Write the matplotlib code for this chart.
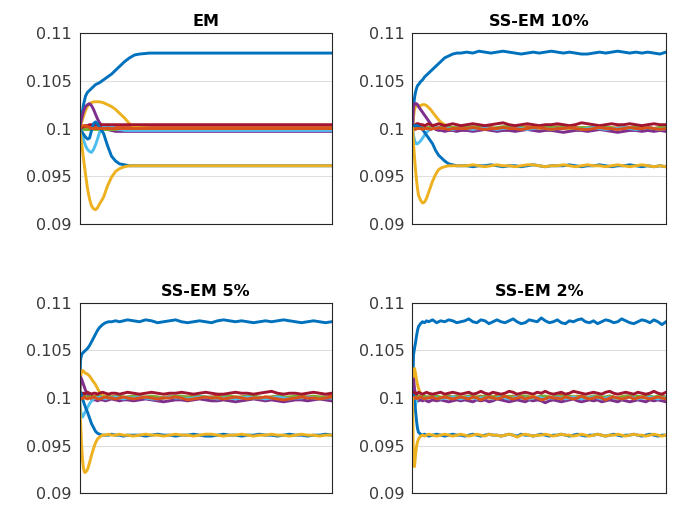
import matplotlib.pyplot as plt
import numpy as np

# mixture weights per iteration, in units of 1e-4 (1000 -> 0.1)
em_iter = [0, 2, 4, 6, 8, 10, 12, 14, 16, 18, 20, 24, 28, 32, 36, 40, 45, 50, 55, 60,
           70, 80, 100, 150, 200, 252]
em_w1 = [1000, 1012, 1025, 1034, 1038, 1040, 1042, 1044, 1046, 1047, 1048, 1051, 1054, 1057,
         1061, 1065, 1070, 1074, 1077, 1078, 1079, 1079, 1079, 1079, 1079, 1079]
em_w2 = [1000, 1001, 1001, 1001, 1001, 1001, 1001, 1001, 1001, 1001, 1001, 1001, 1001, 1001,
         1001, 1001, 1001, 1001, 1001, 1001, 1001, 1001, 1001, 1001, 1001, 1001]
em_w3 = [1000, 1006, 1013, 1019, 1023, 1026, 1027, 1028, 1028, 1028, 1028, 1027, 1025, 1023,
         1020, 1016, 1011, 1005, 1002, 1001, 1000, 1000, 1000, 1000, 1000, 1000]
em_w4 = [1000, 1010, 1018, 1023, 1025, 1026, 1024, 1020, 1015, 1010, 1006, 1001, 999, 998,
         997, 997, 997, 997, 997, 997, 997, 997, 997, 997, 997, 997]
em_w5 = [1000, 1000, 999, 999, 999, 999, 999, 999, 999, 999, 999, 999, 999, 999,
         999, 999, 999, 999, 999, 999, 999, 999, 999, 999, 999, 999]
em_w6 = [1000, 995, 988, 982, 978, 976, 975, 978, 983, 989, 996, 1002, 1004, 1002,
         1000, 999, 998, 998, 998, 998, 998, 998, 998, 998, 998, 998]
em_w7 = [1000, 1001, 1002, 1003, 1003, 1004, 1004, 1004, 1004, 1004, 1004, 1004, 1004, 1004,
         1004, 1004, 1004, 1004, 1004, 1004, 1004, 1004, 1004, 1004, 1004, 1004]
em_w8 = [1000, 997, 994, 991, 989, 990, 998, 1005, 1007, 1005, 1001, 995, 982, 971,
         966, 963, 962, 961, 961, 961, 961, 961, 961, 961, 961, 961]
em_w9 = [1000, 1002, 1003, 1003, 1002, 1001, 1000, 1000, 1000, 1000, 1000, 1000, 1000, 1000,
         1000, 1000, 1000, 1000, 1000, 1000, 1000, 1000, 1000, 1000, 1000, 1000]
em_w10 = [1000, 985, 968, 952, 937, 926, 919, 916, 915, 917, 921, 928, 940, 949,
          955, 958, 960, 961, 961, 961, 961, 961, 961, 961, 961, 961]

ss_iter = [0, 1, 2, 3, 4, 5, 6, 8, 10, 12, 14, 16, 18, 20, 23, 26, 29, 32, 36, 40, 44, 48] \
    + list(range(54, 253, 6))

ss10_w1 = [1000, 1022, 1032, 1038, 1042, 1045, 1046, 1049, 1051, 1054, 1056, 1058, 1060, 1062, 1065, 1068, 1071, 1074, 1076, 1078, 1079, 1079,
           1080, 1079, 1081, 1080, 1079, 1080, 1081, 1080, 1079, 1078, 1079, 1080, 1079, 1080, 1081, 1080, 1079, 1080, 1079, 1078,
           1078, 1079, 1080, 1079, 1080, 1081, 1080, 1079, 1080, 1079, 1080, 1079, 1078, 1080]
ss10_w2 = [1000, 1000, 1001, 1001, 1001, 1001, 1000, 1000, 1001, 1001, 1000, 1000, 1001, 1001, 1000, 1001, 1001, 1000, 1001, 1001, 1000, 1001,
           1001, 1000, 1001, 1002, 1001, 1000, 1001, 1001, 1000, 1001, 1002, 1001, 1000, 1001, 1001, 1002, 1001, 1000, 1001, 1001,
           1000, 1001, 1002, 1001, 1000, 1001, 1001, 1000, 1001, 1002, 1001, 1000, 1001, 1001]
ss10_w3 = [1000, 1012, 1020, 1023, 1024, 1024, 1024, 1024, 1025, 1025, 1024, 1022, 1020, 1017, 1013, 1009, 1006, 1004, 1002, 1001, 1000, 1000,
           1000, 1001, 1000, 1000, 999, 1000, 1001, 1000, 1000, 1001, 1000, 999, 1000, 1000, 1001, 1000, 1000, 999, 1000, 1001,
           1000, 1000, 1001, 1000, 999, 1000, 1000, 1001, 1000, 1000, 999, 1000, 1001, 1000]
ss10_w4 = [1000, 1022, 1026, 1026, 1026, 1025, 1023, 1020, 1017, 1014, 1011, 1008, 1005, 1002, 999, 998, 998, 997, 998, 998, 997, 998,
           998, 997, 998, 999, 998, 997, 998, 998, 997, 998, 999, 998, 997, 998, 998, 997, 996, 997, 998, 998,
           997, 998, 999, 998, 997, 996, 997, 998, 998, 997, 998, 997, 998, 997]
ss10_w5 = [1000, 1000, 1000, 1001, 1001, 1001, 1001, 1001, 1001, 1001, 1001, 1001, 1001, 1001, 1002, 1001, 1001, 1001, 1002, 1001, 1001, 1001,
           1001, 1002, 1001, 1001, 1000, 1001, 1002, 1002, 1001, 1001, 1000, 1001, 1001, 1002, 1001, 1001, 1002, 1001, 1000, 1001,
           1001, 1002, 1002, 1001, 1001, 1000, 1001, 1001, 1002, 1001, 1001, 1000, 1001, 1002]
ss10_w6 = [1000, 993, 988, 985, 984, 984, 985, 987, 990, 993, 996, 998, 999, 1000, 1001, 1001, 1000, 1000, 1000, 999, 1000, 1000,
           1000, 999, 1000, 1001, 1000, 999, 1000, 1000, 1001, 1000, 999, 1000, 1001, 1000, 999, 1000, 1000, 1001, 1000, 999,
           1000, 1001, 1000, 999, 1000, 1000, 1001, 1000, 999, 1000, 1001, 1000, 999, 1000]
ss10_w7 = [1000, 1002, 1003, 1004, 1005, 1005, 1005, 1004, 1004, 1003, 1004, 1005, 1004, 1003, 1004, 1005, 1004, 1003, 1004, 1005, 1004, 1003,
           1004, 1005, 1004, 1003, 1004, 1005, 1006, 1004, 1003, 1004, 1005, 1004, 1003, 1004, 1004, 1005, 1004, 1003, 1004, 1006,
           1005, 1004, 1003, 1004, 1005, 1004, 1004, 1005, 1004, 1003, 1004, 1005, 1004, 1004]
ss10_w8 = [1000, 1002, 1003, 1003, 1003, 1003, 1002, 1001, 999, 996, 993, 990, 987, 984, 977, 972, 969, 966, 963, 962, 961, 961,
           961, 960, 961, 961, 962, 961, 960, 961, 961, 960, 961, 962, 961, 960, 961, 961, 961, 962, 961, 960,
           961, 961, 962, 961, 960, 961, 961, 962, 961, 960, 961, 960, 961, 960]
ss10_w9 = [1000, 1000, 999, 999, 1000, 1000, 1000, 1000, 999, 1000, 1000, 1000, 999, 1000, 1000, 1001, 1000, 1000, 999, 1000, 1000, 1000,
           1000, 1001, 1000, 999, 1000, 1000, 1001, 1000, 1000, 999, 1000, 1001, 1001, 1000, 999, 1000, 1000, 1001, 1000, 999,
           999, 1000, 1001, 1000, 1000, 999, 1000, 1001, 1000, 1000, 1001, 1000, 999, 1000]
ss10_w10 = [1000, 985, 970, 957, 946, 937, 930, 925, 922, 923, 927, 933, 939, 945, 952, 957, 959, 960, 961, 961, 961, 961,
            961, 962, 961, 960, 961, 962, 961, 961, 960, 961, 962, 962, 961, 960, 961, 961, 962, 961, 960, 961,
            962, 961, 961, 960, 961, 962, 961, 960, 961, 962, 961, 960, 961, 960]

ss5_w1 = [1000, 1040, 1045, 1047, 1048, 1049, 1050, 1052, 1055, 1059, 1063, 1067, 1071, 1074, 1077, 1079, 1080, 1080, 1081, 1080, 1081, 1082,
          1081, 1080, 1082, 1081, 1079, 1080, 1081, 1082, 1080, 1079, 1080, 1081, 1080, 1079, 1081, 1082, 1081, 1080, 1081, 1080,
          1079, 1080, 1081, 1080, 1081, 1082, 1081, 1080, 1079, 1080, 1081, 1080, 1079, 1080]
ss5_w2 = [1000, 1001, 1001, 1000, 1001, 1001, 1000, 1001, 1001, 1000, 1001, 1002, 1001, 1000, 1001, 1001, 1000, 1001, 1002, 1001, 1000, 1001,
          1001, 1002, 1000, 1001, 1001, 1000, 1002, 1001, 1000, 1001, 1002, 1001, 1000, 1001, 1002, 1001, 1001, 1000, 1001, 1002,
          1001, 1000, 1001, 1001, 1002, 1001, 1000, 1001, 1002, 1001, 1000, 1001, 1001, 1002]
ss5_w3 = [1000, 1022, 1028, 1029, 1028, 1027, 1026, 1025, 1023, 1020, 1017, 1014, 1010, 1006, 1003, 1001, 1000, 1000, 1001, 1000, 1000, 999,
          1000, 1001, 1000, 999, 1000, 1001, 1001, 1000, 999, 1000, 1001, 1000, 1000, 999, 1000, 1001, 1000, 1001, 1000, 999,
          1000, 1000, 1001, 1000, 999, 1000, 1001, 1000, 1000, 1001, 1000, 999, 1000, 1000]
ss5_w4 = [1000, 1022, 1020, 1017, 1014, 1011, 1008, 1004, 1001, 999, 998, 998, 997, 998, 998, 997, 998, 999, 998, 997, 998, 998,
          997, 998, 999, 998, 997, 996, 997, 998, 998, 997, 998, 999, 998, 997, 997, 998, 997, 996, 997, 998,
          999, 998, 997, 998, 997, 996, 997, 998, 998, 997, 998, 999, 998, 997]
ss5_w5 = [1000, 1000, 1001, 1001, 1001, 1002, 1001, 1001, 1001, 1002, 1001, 1001, 1001, 1002, 1001, 1001, 1002, 1001, 1001, 1002, 1001, 1001,
          1002, 1001, 1001, 1002, 1001, 1000, 1001, 1002, 1002, 1001, 1001, 1002, 1001, 1001, 1000, 1001, 1002, 1001, 1001, 1002,
          1002, 1001, 1000, 1001, 1002, 1001, 1001, 1002, 1001, 1001, 1002, 1001, 1001, 1000]
ss5_w6 = [1000, 988, 981, 980, 982, 984, 986, 990, 994, 997, 999, 1000, 1000, 1001, 1000, 999, 1000, 1000, 1001, 1000, 999, 1000,
          1000, 1001, 1000, 999, 999, 1000, 1001, 1000, 1000, 999, 1000, 1001, 1001, 1000, 999, 1000, 1000, 999, 1000, 1001,
          1000, 1000, 999, 1000, 1001, 1000, 999, 1000, 1000, 1001, 1000, 999, 1000, 1000]
ss5_w7 = [1000, 1003, 1004, 1005, 1005, 1004, 1005, 1006, 1005, 1004, 1005, 1005, 1004, 1005, 1006, 1005, 1004, 1005, 1005, 1004, 1005, 1006,
          1005, 1004, 1005, 1006, 1005, 1004, 1005, 1005, 1006, 1005, 1004, 1005, 1006, 1005, 1004, 1004, 1005, 1006, 1005, 1005,
          1004, 1005, 1006, 1007, 1005, 1004, 1005, 1005, 1004, 1005, 1006, 1005, 1004, 1005]
ss5_w8 = [1000, 1006, 1003, 999, 996, 993, 990, 985, 979, 973, 969, 965, 963, 962, 961, 961, 961, 962, 961, 961, 960, 961,
          961, 961, 960, 961, 962, 961, 961, 960, 961, 961, 962, 961, 960, 960, 961, 962, 961, 961, 960, 961,
          961, 962, 961, 961, 960, 961, 962, 961, 961, 960, 961, 961, 962, 961]
ss5_w9 = [1000, 1000, 999, 1000, 1000, 1001, 1000, 999, 1000, 1000, 1001, 1000, 999, 999, 1000, 1001, 1000, 1000, 999, 1000, 1001, 1000,
          999, 1000, 1001, 1000, 999, 1000, 1000, 1001, 1000, 998, 999, 1000, 1001, 1000, 1000, 999, 1000, 1001, 1000, 999,
          1000, 1000, 1001, 1000, 999, 998, 999, 1000, 1001, 1000, 1000, 999, 1000, 1001]
ss5_w10 = [1000, 975, 952, 935, 926, 922, 922, 925, 932, 940, 947, 953, 957, 959, 961, 961, 962, 961, 961, 962, 961, 961,
           960, 961, 962, 961, 961, 960, 961, 962, 961, 961, 960, 961, 962, 962, 961, 960, 961, 961, 962, 961,
           960, 961, 961, 962, 961, 961, 960, 961, 962, 961, 961, 960, 961, 961]

ss2_iter = [0, 1, 2, 3, 4, 5, 6, 8, 10, 12, 14, 16, 20, 24, 28, 32, 36, 40, 44, 48] + list(range(52, 253, 4))

ss2_w1 = [1000, 1045, 1052, 1058, 1065, 1071, 1075, 1078, 1080, 1079, 1081, 1080, 1082, 1079, 1081, 1080, 1082, 1081, 1079, 1080,
          1081, 1083, 1080, 1079, 1082, 1081, 1078, 1080, 1082, 1080, 1079, 1081, 1083, 1080, 1078, 1079, 1082, 1081, 1080, 1084,
          1081, 1079, 1080, 1082, 1079, 1078, 1081, 1080, 1082, 1083, 1080, 1079, 1081, 1078, 1080, 1082, 1081, 1079, 1080, 1083,
          1081, 1079, 1078, 1080, 1082, 1081, 1079, 1082, 1080, 1077, 1080]
ss2_w2 = [1000, 1001, 1002, 1001, 1000, 1001, 1001, 1002, 1001, 1000, 1001, 1001, 1002, 1001, 1000, 1001, 1002, 1001, 1001, 1000,
          1001, 1002, 1000, 1001, 1002, 1001, 1000, 1001, 1003, 1001, 1000, 1001, 1002, 1001, 1000, 1002, 1001, 1001, 1000, 1002,
          1001, 1000, 1001, 1002, 1003, 1001, 1000, 1001, 1002, 1001, 1001, 1000, 1002, 1001, 1000, 1001, 1002, 1001, 1000, 1001,
          1002, 1002, 1001, 1000, 1001, 1002, 1001, 1000, 1001, 1002, 1001]
ss2_w3 = [1000, 1028, 1031, 1026, 1019, 1014, 1010, 1005, 1002, 1001, 1000, 1001, 1000, 999, 1000, 1001, 1000, 999, 1000, 1001,
          1000, 999, 1001, 1000, 1000, 1002, 1000, 999, 1000, 1001, 1000, 999, 1001, 1000, 1000, 999, 1001, 1002, 1000, 999,
          1000, 1001, 1000, 1000, 999, 1001, 1000, 1002, 1001, 999, 1000, 1000, 1001, 999, 1000, 1001, 1000, 999, 1000, 1002,
          1000, 1001, 999, 1000, 1001, 1000, 1000, 999, 1001, 1000, 1000]
ss2_w4 = [1000, 1020, 1010, 1004, 1000, 998, 997, 998, 997, 998, 997, 996, 998, 997, 998, 997, 996, 997, 998, 997,
          998, 997, 996, 998, 997, 998, 996, 997, 999, 998, 997, 996, 997, 998, 997, 996, 998, 997, 998, 997,
          995, 997, 998, 997, 996, 997, 998, 999, 997, 996, 997, 998, 997, 998, 996, 997, 998, 997, 996, 998,
          997, 996, 997, 998, 997, 996, 998, 997, 998, 997, 996]
ss2_w5 = [1000, 1001, 1001, 1002, 1001, 1001, 1002, 1001, 1001, 1002, 1001, 1001, 1002, 1002, 1001, 1001, 1002, 1001, 1002, 1001,
          1001, 1002, 1002, 1001, 1001, 1002, 1003, 1001, 1001, 1002, 1001, 1002, 1001, 1001, 1002, 1002, 1001, 1000, 1001, 1002,
          1002, 1001, 1001, 1002, 1001, 1003, 1002, 1001, 1001, 1002, 1001, 1001, 1002, 1002, 1001, 1001, 1002, 1001, 1000, 1001,
          1002, 1002, 1001, 1002, 1001, 1001, 1002, 1001, 1002, 1001, 1001]
ss2_w6 = [1000, 990, 986, 992, 997, 999, 1000, 1001, 1000, 999, 1000, 1000, 1001, 1000, 999, 1000, 1000, 1001, 1000, 999,
          1000, 1001, 1000, 999, 1000, 1000, 1001, 999, 1000, 1001, 1000, 999, 1000, 1001, 1000, 1000, 999, 1000, 1001, 1000,
          999, 1000, 1000, 1001, 1000, 999, 1000, 1001, 1000, 999, 1000, 1000, 1001, 1000, 999, 1000, 1001, 1000, 1000, 999,
          1000, 1001, 1000, 999, 1000, 1000, 1001, 1000, 999, 1000, 1000]
ss2_w7 = [1000, 1004, 1006, 1005, 1004, 1005, 1006, 1005, 1004, 1005, 1006, 1005, 1004, 1005, 1006, 1004, 1005, 1006, 1005, 1004,
          1005, 1006, 1004, 1005, 1007, 1005, 1004, 1006, 1005, 1004, 1005, 1007, 1006, 1004, 1005, 1006, 1005, 1004, 1006, 1005,
          1007, 1005, 1004, 1005, 1006, 1004, 1005, 1007, 1006, 1005, 1004, 1005, 1006, 1005, 1004, 1006, 1007, 1005, 1004, 1005,
          1006, 1005, 1004, 1006, 1005, 1004, 1005, 1007, 1005, 1004, 1006]
ss2_w8 = [1000, 1003, 996, 987, 976, 968, 964, 962, 961, 962, 961, 960, 961, 962, 961, 960, 961, 962, 961, 961,
          960, 961, 962, 961, 960, 961, 962, 961, 961, 960, 961, 962, 961, 960, 962, 961, 961, 960, 961, 962,
          961, 960, 961, 961, 962, 961, 960, 961, 962, 961, 960, 961, 961, 962, 961, 960, 961, 962, 961, 960,
          961, 961, 962, 961, 960, 961, 962, 961, 960, 961, 961]
ss2_w9 = [1000, 999, 1000, 1001, 1000, 999, 1000, 1001, 1000, 999, 1000, 1000, 1001, 999, 1000, 1001, 1000, 999, 1000, 1001,
          1000, 999, 1001, 1000, 998, 1000, 1001, 1000, 999, 1000, 1002, 1000, 999, 1000, 1001, 999, 1000, 1001, 1000, 998,
          999, 1001, 1000, 1000, 999, 1001, 1000, 999, 1000, 1002, 1000, 999, 1000, 1001, 1000, 998, 1000, 1001, 1000, 999,
          1000, 1001, 999, 1000, 1001, 1000, 999, 1000, 1001, 1000, 999]
ss2_w10 = [1000, 930, 928, 940, 949, 954, 957, 960, 961, 960, 961, 962, 961, 960, 961, 962, 961, 960, 961, 962,
           961, 960, 961, 962, 961, 960, 962, 961, 961, 960, 961, 962, 961, 959, 961, 962, 961, 960, 961, 961,
           962, 961, 960, 961, 962, 961, 961, 960, 961, 962, 961, 960, 961, 962, 961, 960, 961, 961, 962, 961,
           960, 961, 962, 961, 961, 960, 961, 962, 961, 960, 961]

titles = ["EM", "SS-EM 10%", "SS-EM 5%", "SS-EM 2%"]
ytick_vals = [0.09, 0.095, 0.1, 0.105, 0.11]
ytick_labels = ["0.09", "0.095", "0.1", "0.105", "0.11"]

# MATLAB default colour order
line_colors = ["#0072BD", "#D95319", "#EDB120", "#7E2F8E", "#77AC30", "#4DBEEE", "#A2142F"]

panels = [
    (em_iter, [em_w1, em_w2, em_w3, em_w4, em_w5, em_w6, em_w7, em_w8, em_w9, em_w10]),
    (ss_iter, [ss10_w1, ss10_w2, ss10_w3, ss10_w4, ss10_w5, ss10_w6, ss10_w7, ss10_w8, ss10_w9, ss10_w10]),
    (ss_iter, [ss5_w1, ss5_w2, ss5_w3, ss5_w4, ss5_w5, ss5_w6, ss5_w7, ss5_w8, ss5_w9, ss5_w10]),
    (ss2_iter, [ss2_w1, ss2_w2, ss2_w3, ss2_w4, ss2_w5, ss2_w6, ss2_w7, ss2_w8, ss2_w9, ss2_w10]),
]

# axes boxes in figure fractions
boxes = [[0.118, 0.5564, 0.3739, 0.3782],
         [0.612, 0.5564, 0.3761, 0.3782],
         [0.118, 0.0232, 0.3739, 0.3774],
         [0.612, 0.0232, 0.3761, 0.3774]]

fig = plt.figure(figsize=(6.74, 5.05), dpi=100)

for box, title, (iters, series) in zip(boxes, titles, panels):
    ax = fig.add_axes(box)
    for k, w in enumerate(series):
        ax.plot(iters, np.array(w) / 1e4, color=line_colors[k % 7], lw=2.1,
                solid_joinstyle="round")
    ax.set_xlim(0, 252)
    ax.set_ylim(0.09, 0.11)
    ax.set_xticks([])
    ax.set_yticks(ytick_vals)
    ax.set_yticklabels(ytick_labels)
    ax.tick_params(axis="y", direction="in", length=0, pad=5.5,
                   labelsize=11.5, labelcolor="#3a3a3a")
    ax.yaxis.grid(True, color="#dfdfdf", lw=0.8)
    ax.set_axisbelow(True)
    for sp in ax.spines.values():
        sp.set_color("#262626")
        sp.set_linewidth(0.8)
    ax.set_title(title, fontsize=11.5, fontweight="bold", pad=5)

fig.savefig("out.png", dpi=100)
